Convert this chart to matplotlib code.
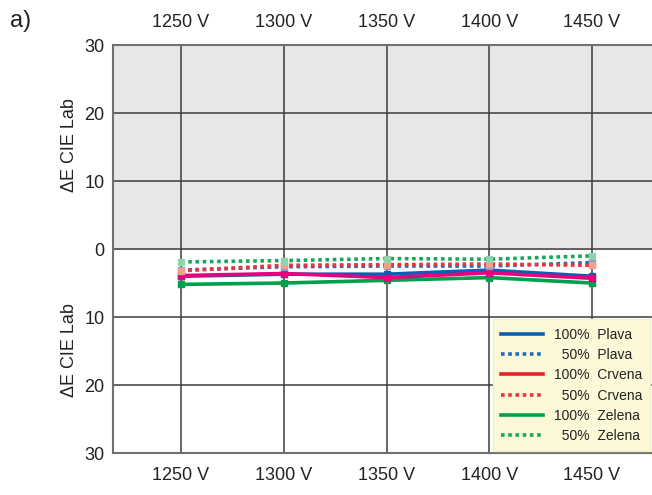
import matplotlib.pyplot as plt
from matplotlib.lines import Line2D

plt.rcParams['font.family'] = ['Liberation Sans Narrow', 'Liberation Sans', 'DejaVu Sans']

# napon (V)
napon = [1250, 1300, 1350, 1400, 1450]
x_labels = ["1250 V", "1300 V", "1350 V", "1400 V", "1450 V"]

# Delta E vrijednosti (negativno = ispod nule)
plava_100 = [-4.0, -3.7, -3.7, -3.1, -4.0]
plava_50 = [-3.1, -2.6, -2.5, -2.5, -2.0]
crvena_100 = [-3.9, -3.6, -4.2, -3.5, -4.3]
crvena_50 = [-3.2, -2.4, -2.3, -2.2, -2.4]
zelena_100 = [-5.2, -5.0, -4.6, -4.2, -5.0]
zelena_50 = [-1.9, -1.7, -1.4, -1.5, -1.0]

y_ticks = [-30, -20, -10, 0, 10, 20, 30]

fig = plt.figure(figsize=(6.52, 4.95), dpi=100)
ax = fig.add_axes([0.1733, 0.0848, 0.8267, 0.8242])

ax.set_xlim(1216.9, 1479.2)
ax.set_ylim(-30, 30)
ax.axhspan(0, 30, color='#e6e7e8', zorder=0)

# mreza
for xv in napon:
    ax.axvline(xv, color='#3c3c3c', lw=1.1, zorder=1)
for yv in y_ticks:
    ax.axhline(yv, color='#3c3c3c', lw=1.1, zorder=1)

serije = [
    (zelena_100, '#00a04b', '-', '#00a04b'),
    (plava_100, '#0a5fb0', '-', '#0a5fb0'),
    (crvena_100, '#e6007e', '-', '#e6007e'),
    (plava_50, '#1e6cc0', (0, (1, 1)), '#7a9bd6'),
    (crvena_50, '#f0323c', (0, (1, 1)), '#f3a08a'),
    (zelena_50, '#16a85a', (0, (1, 1)), '#8fd3ad'),
]
for vals, boja, stil, mboja in serije:
    ax.plot(napon, vals, color=boja, ls=stil, lw=2.6, marker='s', ms=5,
            mfc=mboja, mec=mboja, zorder=3)

ax.set_xticks(napon)
ax.set_xticklabels(x_labels)
ax.set_yticks(y_ticks)
ax.set_yticklabels([str(abs(v)) for v in y_ticks])
ax.tick_params(axis='both', length=0, labelsize=13, colors='#222222')
ax.tick_params(axis='x', labeltop=True, pad=10)
ax.tick_params(axis='y', pad=6)

for s in ['top', 'bottom', 'left']:
    ax.spines[s].set_color('#707070')
    ax.spines[s].set_linewidth(1.5)
ax.spines['right'].set_visible(False)

fig.text(0.107, 0.707, u'\u0394E CIE Lab', rotation=90, fontsize=13,
         ha='center', va='center', color='#222222')
fig.text(0.107, 0.293, u'\u0394E CIE Lab', rotation=90, fontsize=13,
         ha='center', va='center', color='#222222')
fig.text(0.015, 0.957, 'a)', fontsize=17, ha='left', va='center', color='#222222')

# legenda
fs = u'\u2007'
handles = [
    Line2D([], [], color='#0a5fb0', lw=2.6),
    Line2D([], [], color='#1e6cc0', lw=2.6, ls=(0, (1, 1))),
    Line2D([], [], color='#e8212a', lw=2.6),
    Line2D([], [], color='#f0323c', lw=2.6, ls=(0, (1, 1))),
    Line2D([], [], color='#00a04b', lw=2.6),
    Line2D([], [], color='#16a85a', lw=2.6, ls=(0, (1, 1))),
]
labels = ['100%  Plava', fs + '50%  Plava', '100%  Crvena', fs + '50%  Crvena',
          '100%  Zelena', fs + '50%  Zelena']
leg = ax.legend(handles, labels, loc='lower right', bbox_to_anchor=(0.997, 0.004),
                fontsize=10, frameon=True, fancybox=False, handlelength=3.0,
                labelspacing=0.45, borderpad=0.6, handletextpad=0.8,
                borderaxespad=0.0)
for t in leg.get_texts():
    t.set_color('#222222')
leg.get_frame().set_facecolor('#fdf9d8')
leg.get_frame().set_edgecolor('#f0ecc8')
leg.get_frame().set_alpha(1)
leg.set_zorder(5)

fig.savefig('out.png', dpi=100)
